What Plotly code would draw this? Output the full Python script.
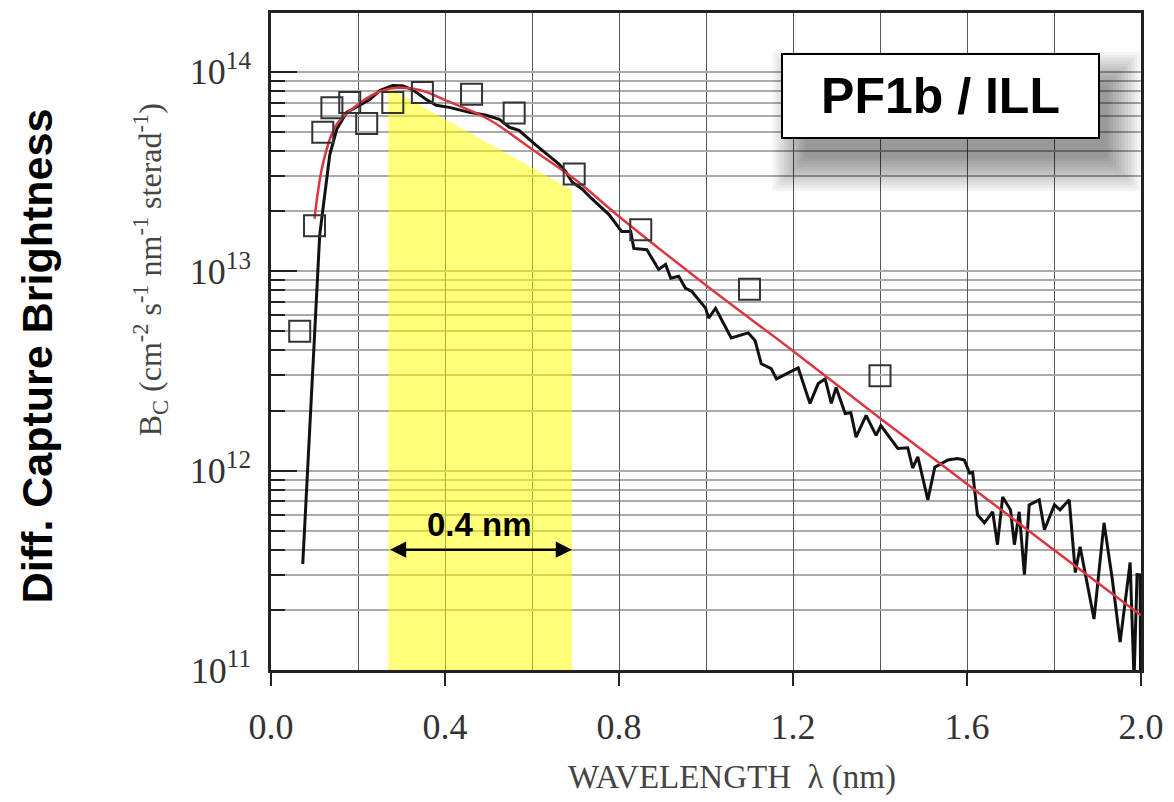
import plotly.graph_objects as go

# ---------------- data ----------------
meas_x = [0.073, 0.112, 0.135, 0.151, 0.174, 0.204, 0.227, 0.250, 0.280, 0.302,
          0.325, 0.357, 0.380, 0.410, 0.456, 0.495, 0.525, 0.548, 0.570, 0.609,
          0.646, 0.662, 0.678, 0.692, 0.715, 0.738, 0.777, 0.806, 0.827, 0.834,
          0.864, 0.891, 0.907, 0.919, 0.937, 0.953, 0.967, 0.999, 1.006, 1.022,
          1.058, 1.097, 1.113, 1.127, 1.150, 1.162, 1.189, 1.212, 1.239, 1.258,
          1.274, 1.288, 1.299, 1.320, 1.333, 1.345, 1.368, 1.391, 1.402, 1.441,
          1.464, 1.475, 1.487, 1.510, 1.526, 1.556, 1.578, 1.594, 1.606, 1.613,
          1.624, 1.640, 1.659, 1.670, 1.682, 1.700, 1.709, 1.720, 1.732, 1.743,
          1.766, 1.778, 1.801, 1.814, 1.835, 1.849, 1.860, 1.892, 1.915, 1.934,
          1.952, 1.975, 1.984, 1.991, 1.998, 1.999]
meas_y = [3.4e11, 1.52e13, 3.82e13, 5.14e13, 6.25e13, 6.78e13, 7.25e13, 8.04e13, 8.51e13, 8.5e13,
          8.13e13, 7.25e13, 6.78e13, 6.62e13, 6.25e13, 6.04e13, 5.77e13, 5.26e13, 5.08e13, 4.28e13,
          3.65e13, 3.44e13, 3.14e13, 2.80e13, 2.58e13, 2.30e13, 1.92e13, 1.58e13, 1.58e13, 1.30e13,
          1.28e13, 1.02e13, 1.08e13, 9.2e12, 9.42e12, 8.2e12, 7.93e12, 6.52e12, 5.81e12, 6.5e12,
          4.62e12, 4.90e12, 4.47e12, 3.43e12, 3.24e12, 2.88e12, 3.09e12, 3.27e12, 2.17e12, 2.73e12,
          2.88e12, 2.17e12, 2.61e12, 1.93e12, 1.95e12, 1.47e12, 1.89e12, 1.50e12, 1.68e12, 1.29e12,
          1.30e12, 1.03e12, 1.17e12, 7.13e11, 1.04e12, 1.13e12, 1.15e12, 1.13e12, 9.7e11, 9.8e11,
          6.0e11, 5.47e11, 6.21e11, 4.25e11, 7.37e11, 6.35e11, 4.25e11, 6.21e11, 3.01e11, 6.73e11,
          7.13e11, 5.05e11, 6.73e11, 6.35e11, 7.13e11, 3.08e11, 4.15e11, 1.80e11, 5.47e11, 2.85e11,
          1.38e11, 3.46e11, 9e10, 3.01e11, 3.0e11, 9e10]

fit_x = [0.10, 0.12, 0.15, 0.20, 0.25, 0.29, 0.35, 0.40, 0.50, 0.60, 0.70, 0.80,
         1.00, 1.20, 1.40, 1.60, 1.80, 2.00]
fit_y = [1.83e13, 3.5e13, 5.4e13, 6.85e13, 7.95e13, 8.3e13, 8.0e13, 7.2e13, 5.77e13,
         4.08e13, 2.87e13, 1.88e13, 8.5e12, 3.98e12, 1.83e12, 8.57e11, 4.0e11, 1.88e11]

sq_x = [0.066, 0.10, 0.119, 0.140, 0.181, 0.220, 0.280, 0.348, 0.461, 0.559, 0.697, 0.850, 1.10, 1.40]
sq_y = [5.0e12, 1.69e13, 4.97e13, 6.6e13, 7.0e13, 5.5e13, 7.0e13, 7.85e13, 7.7e13, 6.2e13,
        3.07e13, 1.61e13, 8.1e12, 2.99e12]

band_edges = [0.27, 0.692]        # wavelength band (nm)
band_top = [8.3e13, 2.55e13]      # upper edge of the shaded band
band_floor = 1e11

x_tick_vals = [0.0, 0.4, 0.8, 1.2, 1.6, 2.0]
x_tick_text = ["0.0", "0.4", "0.8", "1.2", "1.6", "2.0"]
y_tick_vals = [1e11, 1e12, 1e13, 1e14]
y_tick_text = ["10<sup>11</sup>", "10<sup>12</sup>", "10<sup>13</sup>", "10<sup>14</sup>"]

# ---------------- geometry helpers (layout decoration only) ----------------
W, H = 1174, 802
L, R, T, B = 271, 30, 10, 132
PW, PH = W - L - R, H - T - B


def px(xp):
    return (xp - L) / PW


def py(yp):
    return (H - B - yp) / PH


SERIF = "Liberation Serif"
SANS = "Liberation Sans"
Y_RANGE = [11, 14.294]

fig = go.Figure()

fig.add_trace(go.Scatter(
    x=[band_edges[0], band_edges[0], band_edges[1], band_edges[1]],
    y=[band_floor, band_top[0], band_top[1], band_floor],
    fill="toself", fillcolor="rgba(255,255,0,0.52)", mode="none",
    hoverinfo="skip", showlegend=False))

fig.add_trace(go.Scatter(
    x=meas_x, y=meas_y, mode="lines",
    line=dict(color="#111111", width=3), showlegend=False))

fig.add_trace(go.Scatter(
    x=fit_x, y=fit_y, mode="lines",
    line=dict(color="rgb(220,55,65)", width=2.5, shape="spline", smoothing=1.0),
    showlegend=False))

fig.add_trace(go.Scatter(
    x=sq_x, y=sq_y, mode="markers",
    marker=dict(symbol="square-open", size=21, color="#333333", line=dict(width=2)),
    showlegend=False))

tickfont = dict(family=SERIF, size=36, color="#333333")

fig.update_layout(
    width=W, height=H,
    margin=dict(l=L, r=R, t=T, b=B),
    paper_bgcolor="white", plot_bgcolor="white",
    xaxis=dict(
        range=[0, 2], tickvals=x_tick_vals, ticktext=x_tick_text,
        ticks="outside", ticklen=13, tickwidth=2, tickcolor="#222",
        showgrid=True, gridcolor="#555", gridwidth=1.2,
        minor=dict(dtick=0.2, showgrid=True, gridcolor="#555", gridwidth=1.2, ticks=""),
        showline=True, linecolor="#222", linewidth=2.5, mirror=True,
        tickfont=tickfont, ticklabelstandoff=10, zeroline=False),
    yaxis=dict(
        type="log", range=Y_RANGE, tickvals=y_tick_vals, ticktext=y_tick_text,
        ticks="inside", ticklen=26, tickwidth=2, tickcolor="#222",
        showgrid=True, gridcolor="#aaa", gridwidth=1.5,
        minor=dict(dtick="D1", ticks="inside", ticklen=14, tickwidth=2, tickcolor="#222",
                   showgrid=True, gridcolor="#aaa", gridwidth=1.5),
        showline=True, linecolor="#222", linewidth=2.5, mirror=True,
        tickfont=tickfont, ticklabelstandoff=10, zeroline=False),
    xaxis2=dict(
        overlaying="x", side="top", range=[0, 2], dtick=0.2,
        ticks="inside", ticklen=12, tickwidth=2, tickcolor="#222",
        showticklabels=False, showgrid=False, zeroline=False),
    yaxis2=dict(
        overlaying="y", side="right", type="log", range=Y_RANGE,
        tickvals=y_tick_vals,
        ticks="inside", ticklen=26, tickwidth=2, tickcolor="#222",
        minor=dict(dtick="D1", ticks="inside", ticklen=13, tickwidth=2, tickcolor="#222",
                   showgrid=False),
        showticklabels=False, showgrid=False, zeroline=False),
)

# soft drop shadow for the PF1b box
shapes = []
bx0, bx1, by0, by1 = 783, 1102, 50, 136
for k in range(12):
    g = -6 + k * 3
    shapes.append(dict(
        type="rect", xref="paper", yref="paper", layer="above",
        x0=px(bx0 + 18 - g), x1=px(bx1 + 14 + g),
        y0=py(by1 + 26 + g), y1=py(by0 + 26 - g),
        line=dict(width=0), fillcolor="rgba(0,0,0,0.04)"))
fig.update_layout(shapes=shapes)

annotations = [
    dict(text="PF1b / ILL", xref="paper", yref="paper",
         x=px((bx0 + bx1) / 2), y=py((by0 + by1) / 2), xanchor="center", yanchor="middle",
         showarrow=False, font=dict(family=SANS, size=50, color="black", weight="bold"),
         bgcolor="white", bordercolor="black", borderwidth=2, borderpad=2,
         width=bx1 - bx0 - 8, height=by1 - by0 - 8),
    dict(text="", x=band_edges[1], y=11.603, ax=band_edges[0], ay=11.603,
         xref="x", yref="y", axref="x", ayref="y", showarrow=True,
         arrowside="end+start", arrowhead=2, startarrowhead=2,
         arrowsize=1.3, startarrowsize=1.3, arrowwidth=2.5, arrowcolor="black",
         standoff=0, startstandoff=0),
    dict(text="0.4 nm", xref="paper", yref="paper", x=px(480), y=py(524),
         xanchor="center", yanchor="middle", showarrow=False,
         font=dict(family=SANS, size=33, color="black", weight="bold")),
    dict(text="WAVELENGTH  \u03bb (nm)", xref="paper", yref="paper", x=px(734), y=py(778),
         xanchor="center", yanchor="middle", showarrow=False,
         font=dict(family=SERIF, size=33, color="#444444")),
    dict(text="B<sub>C</sub> (cm<sup>-2</sup> s<sup>-1</sup> nm<sup>-1</sup> sterad<sup>-1</sup>)",
         xref="paper", yref="paper", x=px(150), y=py(268), textangle=-90,
         xanchor="center", yanchor="middle", showarrow=False,
         font=dict(family=SERIF, size=32, color="#444444")),
    dict(text="Diff. Capture Brightness", xref="paper", yref="paper",
         x=px(37), y=py(354), textangle=-90,
         xanchor="center", yanchor="middle", showarrow=False,
         font=dict(family=SANS, size=43, color="black", weight="bold")),
]
fig.update_layout(annotations=annotations)

fig.write_html("out.html")
